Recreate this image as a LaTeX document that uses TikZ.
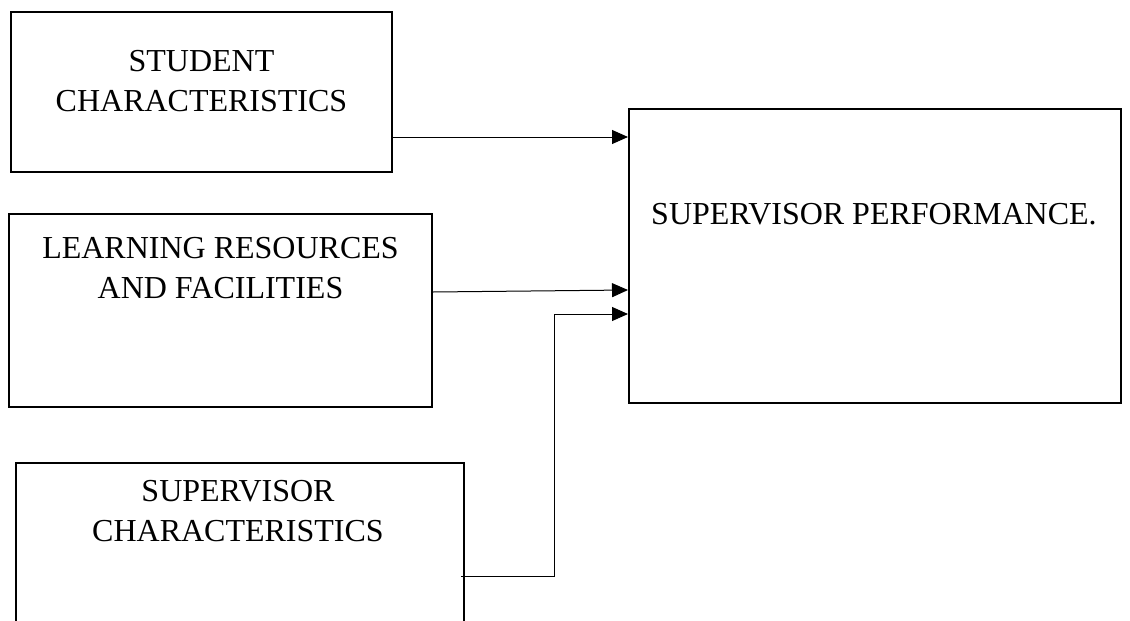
\documentclass[tikz,border=0pt]{standalone}
\usepackage{fontspec}
\setmainfont{Liberation Serif}
\usetikzlibrary{calc,arrows.meta,positioning}
\tikzset{
  box/.style={draw, line width=2pt, inner sep=0pt},
  txt/.style={align=center, font=\fontsize{32}{40}\selectfont, inner sep=0pt, anchor=base},
  arr/.style={-{Triangle[length=16pt,width=14pt]}, line width=1pt}
}
\begin{document}
\begin{tikzpicture}[x=1pt,y=-1pt]
  \useasboundingbox (0,0) rectangle (1130,621);
  \clip (0,0) rectangle (1130,621);
  % boxes
  \node[box, minimum width=381pt, minimum height=160pt] (stu) at (201.5,92) {};
  \node[box, minimum width=423pt, minimum height=193pt] (lrn) at (220.5,310.5) {};
  \node[box, minimum width=448pt, minimum height=200pt] (sup) at (240,563) {};
  \node[box, minimum width=492pt, minimum height=294pt] (perf) at (875,256) {};
  % texts (base = last line)
  \node[txt] (stutxt) at ($(stu.north)+(0,100)$) {STUDENT\\CHARACTERISTICS};
  \node[txt] (lrntxt) at ($(lrn.north)+(0,85)$) {LEARNING RESOURCES\\AND FACILITIES};
  \node[txt] (suptxt) at ($(sup.north)+(-2,79)$) {SUPERVISOR\\CHARACTERISTICS};
  \node[txt] (perftxt) at ($(perf.north)+(-1,116)$) {SUPERVISOR PERFORMANCE.};
  % arrows
  \coordinate (jn) at (554,314);
  \draw[arr] (stu.east |- 0,137) -- (perf.west |- 0,137);
  \draw[arr] (lrn.east |- 0,292) -- (perf.west |- 0,290);
  \draw[arr] ([xshift=-4pt]sup.east |- 0,576) -| (jn) -- (perf.west |- jn);
\end{tikzpicture}
\end{document}
